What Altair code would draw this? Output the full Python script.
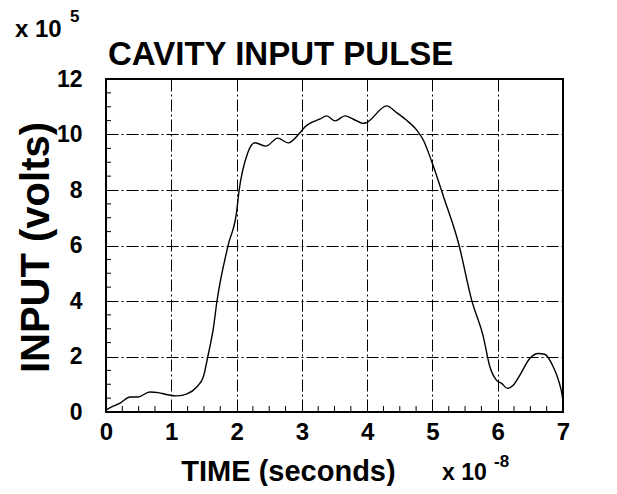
import altair as alt
import pandas as pd

# Data (time in units of 1e-8 s, input in units of 1e5 V)
time = [0.0, 0.1, 0.2, 0.37, 0.49, 0.67, 0.8, 0.95, 1.09, 1.24, 1.39, 1.49, 1.56,
        1.59, 1.64, 1.70, 1.87, 2.0, 2.04, 2.17, 2.28, 2.45, 2.63, 2.79, 2.97, 3.05,
        3.28, 3.38, 3.51, 3.66, 3.79, 3.94, 3.99, 4.30, 4.45, 4.60, 4.76, 4.86, 4.99,
        5.17, 5.40, 5.60, 5.78, 5.88, 5.98, 6.06, 6.15, 6.24, 6.34, 6.49, 6.62, 6.72,
        6.85, 6.93, 6.99, 7.0]
volts = [0.07, 0.2, 0.3, 0.54, 0.54, 0.72, 0.7, 0.62, 0.58, 0.65, 0.9, 1.26, 2.0,
         2.34, 2.95, 4.0, 6.0, 7.2, 8.0, 9.33, 9.7, 9.58, 9.87, 9.7, 10.06, 10.28,
         10.56, 10.67, 10.49, 10.67, 10.55, 10.40, 10.43, 11.03, 10.79, 10.52, 10.16,
         9.8, 9.02, 7.76, 6.08, 4.04, 2.71, 1.63, 1.15, 1.03, 0.85, 0.97, 1.33, 1.93,
         2.11, 2.08, 1.63, 1.15, 0.55, 0.35]

x_ticks = [0, 1, 2, 3, 4, 5, 6, 7]
y_ticks = [0, 2, 4, 6, 8, 10, 12]
x_minor = [0.25, 0.5, 0.75, 1.25, 1.5, 1.75, 2.25, 2.5, 2.75, 3.25, 3.5, 3.75,
           4.25, 4.5, 4.75, 5.25, 5.5, 5.75, 6.25, 6.5, 6.75]
y_minor = [0.5, 1, 1.5, 2.5, 3, 3.5, 4.5, 5, 5.5, 6.5, 7, 7.5, 8.5, 9, 9.5,
           10.5, 11, 11.5]

FONT = "Liberation Sans"
df = pd.DataFrame({"t": time, "v": volts})

xs = alt.Scale(domain=[0, 7], nice=False, zero=False)
ys = alt.Scale(domain=[0, 12], nice=False)
dash = [12, 3, 2, 3]

line = alt.Chart(df).mark_line(color="black", strokeWidth=1.4, interpolate="monotone").encode(
    x=alt.X("t:Q", scale=xs,
            axis=alt.Axis(values=x_ticks, format="d", title="TIME (seconds)", ticks=False, tickSize=0,
                          grid=True, gridColor="black", gridDash=dash, gridWidth=1, gridOpacity=1,
                          domain=False, labelFont=FONT, labelFontSize=24, labelFontWeight="bold",
                          labelColor="black", labelPadding=8, labelFlush=False,
                          titleFont=FONT, titleFontSize=29, titleFontWeight="bold", titleColor="black",
                          titleX=182, titleY=68, titleBaseline="alphabetic", titleAlign="center")),
    y=alt.Y("v:Q", scale=ys,
            axis=alt.Axis(values=y_ticks, format="d", title="INPUT (volts)", ticks=False, tickSize=0,
                          grid=True, gridColor="black", gridDash=dash, gridWidth=1, gridOpacity=1,
                          domain=False, labelFont=FONT, labelFontSize=23, labelFontWeight="bold",
                          labelColor="black", labelPadding=24, labelFlush=False,
                          titleFont=FONT, titleFontSize=40, titleFontWeight="bold", titleColor="black",
                          titleX=-70, titleY=168, titleAngle=270, titleBaseline="middle",
                          titleAlign="center")),
)

xminor = alt.Chart(pd.DataFrame({"m": x_minor})).mark_rule(color="black", strokeWidth=1).encode(
    x=alt.X("m:Q", scale=xs), y=alt.value(333), y2=alt.value(327))
yminor = alt.Chart(pd.DataFrame({"m": y_minor})).mark_rule(color="black", strokeWidth=1).encode(
    y=alt.Y("m:Q", scale=ys), x=alt.value(0), x2=alt.value(5))

def txt(s, x, y, size):
    return alt.Chart(pd.DataFrame({"s": [s]})).mark_text(
        align="left", baseline="alphabetic", font=FONT, fontWeight="bold",
        fontSize=size, color="black").encode(text="s:N", x=alt.value(x), y=alt.value(y))

labels = [
    txt("x 10", -91, -42, 24),
    txt("5", -36, -57, 17),
    txt("x 10", 336, 401, 23),
    txt("-8", 388, 388, 17),
    txt("CAVITY INPUT PULSE", 2, -14, 33),
]

chart = alt.layer(line, xminor, yminor, *labels).properties(
    width=457, height=333,
    autosize=alt.AutoSizeParams(type="none"),
    padding={"left": 98, "top": 71, "right": 46, "bottom": 74},
).configure_view(stroke="black", strokeWidth=2)

chart.save("out.html", embed_options={"renderer": "svg", "actions": False})
